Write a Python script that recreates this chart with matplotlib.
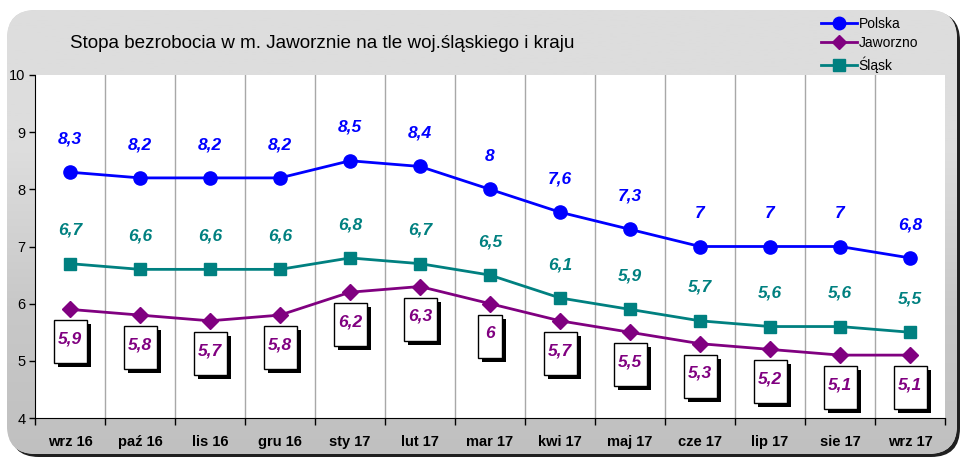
import numpy as np
import matplotlib.pyplot as plt
import matplotlib.transforms as mtransforms
from matplotlib.colors import LinearSegmentedColormap
from matplotlib.patches import FancyBboxPatch, Rectangle
from matplotlib.lines import Line2D

plt.rcParams['font.family'] = ['Liberation Sans', 'DejaVu Sans']

months = ['wrz 16', 'paź 16', 'lis 16', 'gru 16', 'sty 17', 'lut 17', 'mar 17',
          'kwi 17', 'maj 17', 'cze 17', 'lip 17', 'sie 17', 'wrz 17']
polska = [8.3, 8.2, 8.2, 8.2, 8.5, 8.4, 8.0, 7.6, 7.3, 7.0, 7.0, 7.0, 6.8]
jaworzno = [5.9, 5.8, 5.7, 5.8, 6.2, 6.3, 6.0, 5.7, 5.5, 5.3, 5.2, 5.1, 5.1]
slask = [6.7, 6.6, 6.6, 6.6, 6.8, 6.7, 6.5, 6.1, 5.9, 5.7, 5.6, 5.6, 5.5]

c_pl = '#0000ff'
c_ja = '#800080'
c_sl = '#008080'


def fmt(v):
    s = ('%.1f' % v).rstrip('0').rstrip('.')
    return s.replace('.', ',')


W, H = 963, 459
fig = plt.figure(figsize=(W / 100, H / 100), dpi=100)
fig.patch.set_facecolor('white')


def fx(px):
    return px / W


def fy(py):
    return 1 - py / H


# grey rounded frame with a dark shadow, drawn in a background axes
bg = fig.add_axes([0, 0, 1, 1], zorder=-5)
bg.axis('off')
bg.set_xlim(0, 1)
bg.set_ylim(0, 1)
shadow = FancyBboxPatch((fx(10), fy(457)), fx(950), fy(12) - fy(457),
                        boxstyle='round,pad=0,rounding_size=0.03',
                        transform=bg.transAxes, facecolor='#202020',
                        edgecolor='none', zorder=1, mutation_aspect=W / H)
bg.add_patch(shadow)
frame = FancyBboxPatch((fx(7), fy(454)), fx(950), fy(10) - fy(454),
                       boxstyle='round,pad=0,rounding_size=0.03',
                       transform=bg.transAxes, facecolor='#d6d6d6',
                       edgecolor='none', zorder=2, mutation_aspect=W / H)
bg.add_patch(frame)
grad = np.linspace(0, 1, 256).reshape(-1, 1)
cmap = LinearSegmentedColormap.from_list('g', ['#c0c0c0', '#c8c8c8', '#dddddd', '#dddddd'])
im = bg.imshow(grad, extent=[0, 1, 0, 1], aspect='auto', cmap=cmap,
               origin='lower', zorder=3)
im.set_clip_path(frame)

ax = fig.add_axes([fx(35), fy(418), fx(945) - fx(35), fy(75) - fy(418)])
ax.set_facecolor('white')
x = np.arange(len(months))

ax.plot(x, polska, color=c_pl, lw=2, marker='o', ms=9.5, zorder=4)
ax.plot(x, jaworzno, color=c_ja, lw=2, marker='D', ms=8, zorder=4)
ax.plot(x, slask, color=c_sl, lw=2, marker='s', ms=9, zorder=4)

ax.set_xlim(-0.5, len(months) - 0.5)
ax.set_ylim(4, 10)
ax.set_yticks(range(4, 11))
ax.tick_params(axis='y', labelsize=10.5, length=4, width=1, pad=3)
ax.set_xticks(x)
ax.set_xticklabels(months, fontweight='bold', fontsize=10.5)
ax.set_xticks(np.arange(-0.5, len(months)), minor=True)
ax.tick_params(axis='x', which='major', length=0, pad=12)
ax.tick_params(axis='x', which='minor', length=5, width=1, direction='out')
for b in np.arange(0.5, len(months) - 1):
    ax.axvline(b, color='#a8a8a8', lw=1, zorder=1)
for s in ['top', 'right']:
    ax.spines[s].set_visible(False)

lab_font = dict(fontsize=12.5, fontweight='bold', fontstyle='italic',
                ha='center', va='center')
for xi, v in zip(x, polska):
    ax.annotate(fmt(v), (xi, v), xytext=(0, 24), textcoords='offset points',
                color=c_pl, zorder=5, **lab_font)
for xi, v in zip(x, slask):
    ax.annotate(fmt(v), (xi, v), xytext=(0, 24), textcoords='offset points',
                color=c_sl, zorder=5, **lab_font)
for xi, v in zip(x, jaworzno):
    t = fmt(v)
    bw = 0.33 if len(t) > 1 else 0.24
    bh = 0.43
    base = fig.dpi_scale_trans + mtransforms.ScaledTranslation(xi, v, ax.transData)
    sh = Rectangle((-bw / 2 + 0.04, -0.11 - bh - 0.04), bw, bh, transform=base,
                   facecolor='black', edgecolor='none', zorder=5, clip_on=False)
    box = Rectangle((-bw / 2, -0.11 - bh), bw, bh, transform=base,
                    facecolor='white', edgecolor='black', lw=1, zorder=6, clip_on=False)
    ax.add_patch(sh)
    ax.add_patch(box)
    ax.annotate(t, (xi, v), xytext=(0, -(0.11 + bh / 2) * 72 + 2),
                textcoords='offset points', color=c_ja, zorder=7, **lab_font)

fig.text(fx(70), fy(43), 'Stopa bezrobocia w m. Jaworznie na tle woj.śląskiego i kraju',
         fontsize=13.6, va='center', ha='left')

handles = [Line2D([], [], color=c_pl, lw=2, marker='o', ms=9),
           Line2D([], [], color=c_ja, lw=2, marker='D', ms=7),
           Line2D([], [], color=c_sl, lw=2, marker='s', ms=8.5)]
fig.legend(handles, ['Polska', 'Jaworzno', 'Śląsk'], loc='upper left',
           bbox_to_anchor=(fx(808), fy(4)), frameon=False, fontsize=10,
           handlelength=2.6, handletextpad=0.15, labelspacing=0.42)

fig.savefig('out.png', dpi=100)
